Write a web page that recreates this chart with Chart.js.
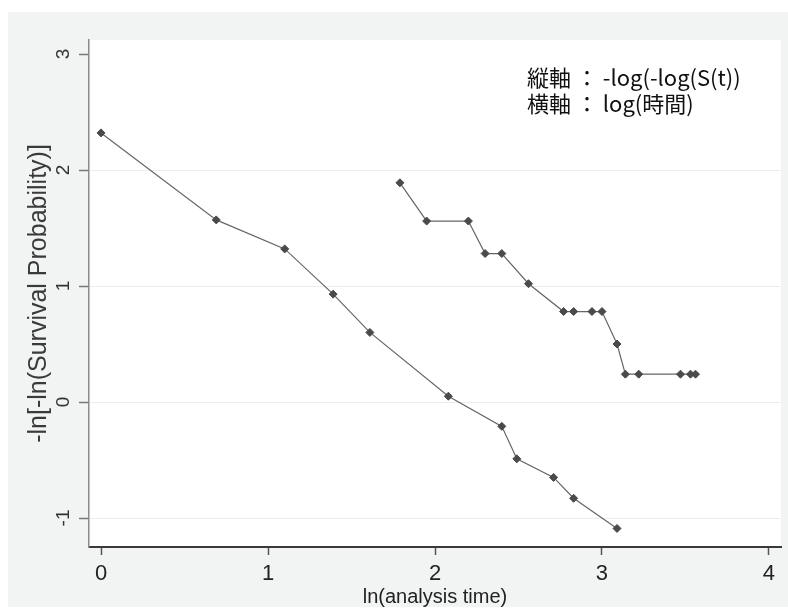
<!DOCTYPE html>
<html>
<head>
<meta charset="utf-8">
<script src="https://cdn.jsdelivr.net/npm/chart.js@4.4.1/dist/chart.umd.min.js"></script>
<style>
  html, body { margin: 0; padding: 0; background: #ffffff; }
  #frame {
    position: absolute; left: 8px; top: 12px;
    width: 780px; height: 595px;
    background: #f2f3f3;
  }
  #chart { display: block; }
</style>
</head>
<body>
<div id="frame"><canvas id="chart" width="780" height="595"></canvas></div>
<script>
// ln(analysis time) / -ln[-ln(S)] readings, group A (lower curve)
const groupAX = [0, 0.69, 1.10, 1.39, 1.61, 2.08, 2.40, 2.49, 2.71, 2.83, 3.09];
const groupAY = [2.32, 1.57, 1.32, 0.93, 0.60, 0.05, -0.21, -0.49, -0.65, -0.83, -1.09];

// group B (upper curve)
const groupBX = [1.79, 1.95, 2.20, 2.30, 2.40, 2.56, 2.77, 2.83, 2.94, 3.00, 3.09, 3.14, 3.22, 3.47, 3.53, 3.56];
const groupBY = [1.89, 1.56, 1.56, 1.28, 1.28, 1.02, 0.78, 0.78, 0.78, 0.78, 0.50, 0.24, 0.24, 0.24, 0.24, 0.24];

const xTicks = [0, 1, 2, 3, 4];
const yTicks = [-1, 0, 1, 2, 3];

const noteLines = ['縦軸 ： -log(-log(S(t))', '横軸 ： log(時間)'];

function toPoints(xs, ys) {
    return xs.map((x, i) => ({ x: x, y: ys[i] }));
}

function lineSet(xs, ys) {
    return {
        data: toPoints(xs, ys),
        showLine: true,
        borderColor: '#666666',
        borderWidth: 1.2,
        pointStyle: 'rectRot',
        pointRadius: 4,
        pointBackgroundColor: '#4a4a4a',
        pointBorderColor: '#4a4a4a',
        pointBorderWidth: 1
    };
}

// white plot area on the grey frame
const plotBackground = {
    id: 'plotBackground',
    beforeDraw(chart) {
        const { ctx, chartArea: a } = chart;
        ctx.save();
        ctx.fillStyle = '#ffffff';
        ctx.fillRect(a.left, a.top, a.right - a.left, a.bottom - a.top);
        ctx.restore();
    }
};

// annotation in the upper right corner
const cornerNote = {
    id: 'cornerNote',
    afterDraw(chart) {
        const ctx = chart.ctx;
        ctx.save();
        ctx.fillStyle = '#111111';
        ctx.font = '22px "Noto Sans CJK JP", sans-serif';
        ctx.textAlign = 'left';
        ctx.textBaseline = 'alphabetic';
        noteLines.forEach((t, i) => ctx.fillText(t, 519, 74 + i * 26));
        ctx.restore();
    }
};

new Chart(document.getElementById('chart'), {
    type: 'scatter',
    data: {
        datasets: [lineSet(groupAX, groupAY), lineSet(groupBX, groupBY)]
    },
    options: {
        responsive: false,
        animation: false,
        layout: { padding: { left: 0, top: 28, right: 7, bottom: 0 } },
        plugins: {
            legend: { display: false },
            tooltip: { enabled: false }
        },
        scales: {
            x: {
                type: 'linear',
                min: -0.072,
                max: 4.072,
                afterBuildTicks(scale) { scale.ticks = xTicks.map(v => ({ value: v })); },
                afterFit(scale) { scale.height = 60; },
                grid: { drawOnChartArea: false, drawTicks: true, tickLength: 8, tickColor: '#555555', tickWidth: 1.5 },
                border: { display: true, color: '#3a3a3a', width: 2 },
                ticks: {
                    padding: 6,
                    color: '#222222',
                    font: { family: '"Liberation Sans", Arial, sans-serif', size: 22 }
                },
                title: {
                    display: true,
                    text: 'ln(analysis time)',
                    color: '#222222',
                    padding: { top: 0, bottom: 0 },
                    font: { family: '"Liberation Sans", Arial, sans-serif', size: 20, lineHeight: 1 }
                }
            },
            y: {
                type: 'linear',
                min: -1.25,
                max: 3.121,
                afterBuildTicks(scale) { scale.ticks = yTicks.map(v => ({ value: v })); },
                afterFit(scale) { scale.width = 81; },
                grid: {
                    color: ctx => (ctx.tick && ctx.tick.value === 3) ? 'rgba(0,0,0,0)' : '#ececec',
                    lineWidth: 1,
                    drawTicks: true,
                    tickLength: 10,
                    tickColor: '#777777',
                    tickWidth: 1.5
                },
                border: { display: true, color: '#8a8a8a', width: 1.5 },
                ticks: {
                    minRotation: 90,
                    maxRotation: 90,
                    crossAlign: 'center',
                    padding: 7,
                    color: '#333333',
                    font: { family: '"Liberation Sans", Arial, sans-serif', size: 19 }
                },
                title: {
                    display: true,
                    text: '-ln[-ln(Survival Probability)]',
                    color: '#3a3a3a',
                    padding: { top: 19, bottom: 0 },
                    font: { family: '"Liberation Sans", Arial, sans-serif', size: 25, lineHeight: 1 }
                }
            }
        }
    },
    plugins: [plotBackground, cornerNote]
});
</script>
</body>
</html>
